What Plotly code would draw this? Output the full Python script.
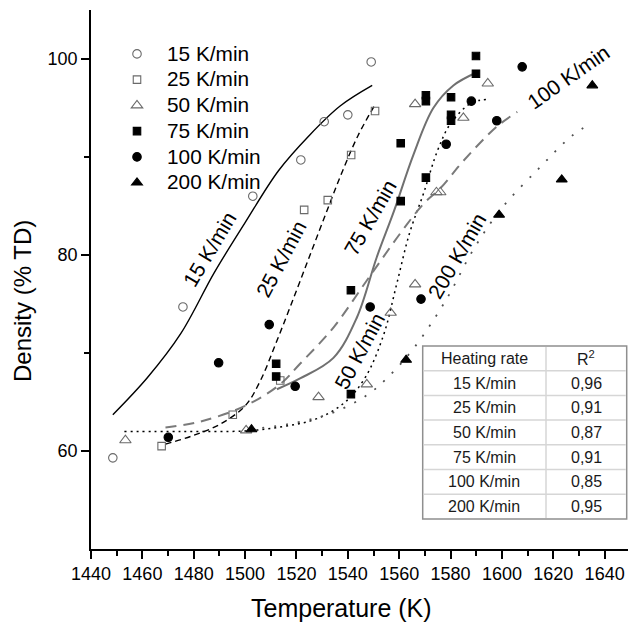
import plotly.graph_objects as go

# ---------------- data ----------------
rates = ["15 K/min", "25 K/min", "50 K/min", "75 K/min", "100 K/min", "200 K/min"]
r2_values = ["0,96", "0,91", "0,87", "0,91", "0,85", "0,95"]
x_title = "Temperature (K)"
y_title = "Density (% TD)"

p15_x = [1448.5, 1475.8, 1503.0, 1521.7, 1530.8, 1540.0, 1549.1]
p15_y = [59.3, 74.7, 86.0, 89.7, 93.6, 94.3, 99.7]

p25_x = [1467.5, 1495.2, 1513.7, 1523.0, 1532.2, 1541.3, 1550.6]
p25_y = [60.5, 63.7, 67.2, 84.6, 85.6, 90.2, 94.7]

p50_x = [1453.4, 1500.4, 1528.6, 1547.4, 1556.7, 1566.2, 1566.2, 1574.5, 1576.0, 1585.0, 1594.5]
p50_y = [61.1, 62.1, 65.5, 66.8, 74.1, 77.0, 95.4, 86.4, 86.4, 94.0, 97.5]

p75_x = [1512.1, 1512.1, 1541.2, 1541.2, 1560.6, 1560.6, 1570.4, 1570.4, 1570.4,
         1580.2, 1580.2, 1580.2, 1589.9, 1589.9]
p75_y = [68.9, 67.6, 65.8, 76.4, 85.5, 91.4, 87.9, 96.3, 95.7,
         96.1, 94.3, 93.7, 100.3, 98.5]

p100_x = [1470.1, 1489.7, 1509.4, 1519.5, 1548.7, 1568.5, 1578.3, 1588.1, 1598.0, 1607.9]
p100_y = [61.4, 69.0, 72.9, 66.6, 74.7, 75.5, 91.3, 95.7, 93.7, 99.2]

p200_x = [1502.5, 1562.7, 1598.9, 1623.3, 1635.2]
p200_y = [62.2, 69.3, 84.1, 87.7, 97.3]

# fitted curves
c15_x = [1448.5, 1462, 1475, 1488, 1500, 1513, 1525, 1537, 1549.5]
c15_y = [63.7, 67.5, 72.0, 78.2, 83.3, 88.6, 92.2, 95.2, 97.3]

c25_x = [1469, 1480, 1490, 1500, 1506, 1512, 1518, 1525, 1532, 1538, 1544, 1550.5]
c25_y = [60.7, 61.6, 62.7, 64.6, 67.2, 71.0, 75.0, 79.8, 84.6, 88.6, 92.2, 95.3]

c50_x = [1453, 1475, 1500, 1515, 1528, 1539, 1547, 1554, 1559, 1564, 1569.5, 1575, 1580, 1588, 1595]
c50_y = [62.0, 62.0, 62.05, 62.5, 63.3, 65.0, 67.6, 71.9, 77.0, 82.2, 86.3, 90.7, 93.4, 95.5, 95.9]

c75_x = [1512.4, 1521.4, 1534.4, 1543.5, 1551.3, 1558, 1565.5, 1573.3, 1581.1, 1589.9]
c75_y = [66.3, 67.4, 69.5, 73.6, 79.8, 84.5, 90.2, 95.0, 97.3, 98.6]

c100_x = [1469, 1482.5, 1500, 1513.6, 1521.4, 1534.4, 1547.4, 1560.4, 1569.4, 1576, 1585, 1598, 1606]
c100_y = [62.4, 63.0, 64.6, 66.8, 68.9, 72.6, 77.4, 82.2, 85.2, 86.8, 89.6, 93.1, 94.6]

c200_x = [1502, 1520, 1535, 1548, 1557, 1566, 1578, 1589, 1600, 1615, 1627, 1635]
c200_y = [62.2, 62.9, 64.0, 65.8, 67.9, 70.6, 75.3, 80.6, 84.8, 89.0, 92.1, 93.5]

# curve label positions (data coords) and angles
lab_x = [1486.0, 1514.2, 1544.4, 1548.8, 1626.1, 1582.7]
lab_y = [80.6, 79.6, 70.2, 83.8, 98.2, 79.9]
lab_angle = [-59, -62, -62, -60, -35, -60]

# ---------------- figure ----------------
W, H = 628, 624
ML, MR, MT, MB = 91, 0, 10, 75
PW = W - ML - MR
PH = H - MT - MB

def xp(px):
    return (px - ML) / PW

def yp(py):
    return (H - MB - py) / PH

FONT = "Liberation Sans, Arial, sans-serif"
GRAY = "#6a6a6a"

fig = go.Figure()

curves = [
    (c15_x, c15_y, dict(color="black", width=1.4, dash="solid")),
    (c25_x, c25_y, dict(color="black", width=1.4, dash="6px,4px")),
    (c50_x, c50_y, dict(color="black", width=1.5, dash="2px,4px")),
    (c75_x, c75_y, dict(color="#707070", width=2, dash="solid")),
    (c100_x, c100_y, dict(color="#7a7a7a", width=2, dash="11px,7px")),
    (c200_x, c200_y, dict(color="#505050", width=1.8, dash="2px,10px")),
]
for cx, cy, ln in curves:
    fig.add_trace(go.Scatter(x=cx, y=cy, mode="lines", line=dict(shape="spline", smoothing=1.0, **ln),
                             showlegend=False, hoverinfo="skip"))

points = [
    (p15_x, p15_y, "circle-open", 8.5, GRAY),
    (p25_x, p25_y, "square-open", 7.5, GRAY),
    (p50_x, p50_y, "triangle-up-open", 10, GRAY),
    (p75_x, p75_y, "square", 7.5, "black"),
    (p100_x, p100_y, "circle", 8.5, "black"),
    (p200_x, p200_y, "triangle-up", 9.5, "black"),
]
for (px_, py_, sym, sz, col), name in zip(points, rates):
    fig.add_trace(go.Scatter(x=px_, y=py_, mode="markers",
                             name='<span style="font-size:20.8px">' + name + '</span>',
                             marker=dict(symbol=sym, size=sz, color=col, line=dict(color=col, width=1.1))))

for text, x, y, ang in zip(rates, lab_x, lab_y, lab_angle):
    fig.add_annotation(x=x, y=y, xref="x", yref="y", text=text, textangle=ang, showarrow=False,
                       xanchor="center", yanchor="middle",
                       font=dict(family=FONT, size=21, color="black"))

# axis titles
fig.add_annotation(x=xp(341), y=yp(608), xref="paper", yref="paper", text=x_title, showarrow=False,
                   xanchor="center", yanchor="middle", font=dict(family=FONT, size=25, color="black"))
fig.add_annotation(x=xp(22), y=yp(301), xref="paper", yref="paper", text=y_title, showarrow=False,
                   textangle=-90, xanchor="center", yanchor="middle",
                   font=dict(family=FONT, size=24, color="black"))

# ---------------- R² table ----------------
tab_left, tab_mid, tab_right = 422.7, 546.0, 626.7
tab_top, row_h = 346.0, 24.7
header = ["Heating rate", "R<sup>2</sup>"]
n_rows = len(rates) + 1
tab_bottom = tab_top + n_rows * row_h

fig.add_shape(type="rect", xref="paper", yref="paper", x0=xp(tab_left), x1=xp(tab_right),
              y0=yp(tab_bottom), y1=yp(tab_top), line=dict(color="#8f8f8f", width=1.5),
              fillcolor="white", layer="above")
for i in range(1, n_rows):
    yy = tab_top + i * row_h
    fig.add_shape(type="line", xref="paper", yref="paper", x0=xp(tab_left + 1), x1=xp(tab_right - 1),
                  y0=yp(yy), y1=yp(yy), line=dict(color="#d6d6d6", width=1.5), layer="above")
fig.add_shape(type="line", xref="paper", yref="paper", x0=xp(tab_mid), x1=xp(tab_mid),
              y0=yp(tab_top + 1), y1=yp(tab_bottom - 1), line=dict(color="#d6d6d6", width=1.5), layer="above")

rows = [header] + [[r, v] for r, v in zip(rates, r2_values)]
for i, (a, b) in enumerate(rows):
    yc = tab_top + (i + 0.5) * row_h
    for txt, xc in ((a, (tab_left + tab_mid) / 2), (b, (tab_mid + tab_right) / 2)):
        fig.add_annotation(x=xp(xc), y=yp(yc), xref="paper", yref="paper", text=txt, showarrow=False,
                           xanchor="center", yanchor="middle",
                           font=dict(family=FONT, size=16, color="#1a1a1a"))

fig.update_layout(
    width=W, height=H,
    margin=dict(l=ML, r=MR, t=MT, b=MB, autoexpand=False),
    paper_bgcolor="white", plot_bgcolor="white",
    font=dict(family=FONT, color="black"),
    showlegend=True,
    legend=dict(x=xp(107), y=yp(36), xanchor="left", yanchor="top", bgcolor="rgba(0,0,0,0)",
                font=dict(family=FONT, size=17.5, color="black"), itemwidth=50, tracegroupgap=0),
    xaxis=dict(range=[1440, 1649.1], showline=True, linecolor="black", linewidth=1.6, automargin=False,
               ticks="outside", ticklen=8, tickwidth=1.5, tickcolor="black",
               tick0=1440, dtick=20, showgrid=False, zeroline=False,
               tickfont=dict(family=FONT, size=18, color="black"),
               minor=dict(dtick=10, ticks="outside", ticklen=5, tickwidth=1.5, tickcolor="black")),
    yaxis=dict(range=[50, 105], showline=True, linecolor="black", linewidth=1.6, automargin=False,
               ticks="outside", ticklen=8, tickwidth=1.5, tickcolor="black",
               tickvals=[60, 80, 100], showgrid=False, zeroline=False,
               tickfont=dict(family=FONT, size=18, color="black"),
               minor=dict(tickvals=[70, 90], ticks="outside", ticklen=5, tickwidth=1.5, tickcolor="black")),
)

fig.write_html("out.html", config={"displayModeBar": False},
               post_script="document.body.style.margin='0';document.body.style.overflow='hidden';")
